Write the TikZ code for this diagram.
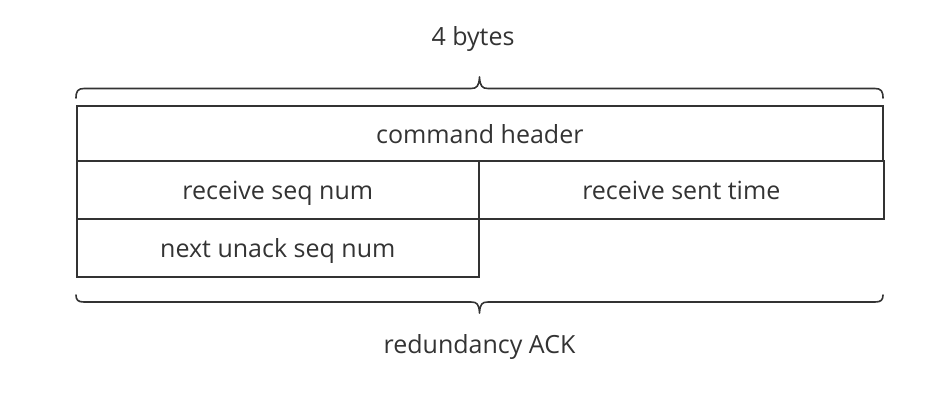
\documentclass[tikz,border=0pt]{standalone}
\usepackage{fontspec}
\setmainfont{Open Sans}
\definecolor{ink}{HTML}{333333}
\begin{document}
\begin{tikzpicture}[x=1pt,y=-1pt,
  txt/.style={text=ink,font=\fontsize{25}{30}\selectfont,text height=20pt,text depth=0pt},
  cell/.style={txt,draw=ink,line width=1.6pt,inner sep=0pt,anchor=north west},
  lbl/.style={txt,inner sep=0pt},
  brace/.style={draw=ink,line width=1.6pt,line cap=round,line join=round}]
\useasboundingbox (0,0) rectangle (943,408);
\node[cell,minimum width=806pt,minimum height=55pt] (hdr) at (76,105) {command header};
\node[cell,minimum width=402pt,minimum height=58pt] (rsn) at (76,160) {receive seq num};
\node[cell,minimum width=405pt,minimum height=58pt] (rst) at (478,160) {receive sent time};
\node[cell,minimum width=402pt,minimum height=58pt] (nus) at (76,218) {next unack seq num};
\node[lbl] (top) at (473,35) {4 bytes};
\node[lbl] (bot) at (479.5,343) {redundancy ACK};
\coordinate (tl) at (76,98);
\coordinate (tm) at (479.5,77);
\coordinate (tr) at (883,98);
\coordinate (bl) at (76,295);
\coordinate (bm) at (479.5,313);
\coordinate (br) at (883,295);
\draw[brace] (tl) .. controls (76,91) and (78,88.5) .. (84,88.5) -- (471,88.5)
  .. controls (477,88.5) and (479,86) .. (tm)
  .. controls (480,86) and (482,88.5) .. (488,88.5) -- (875,88.5)
  .. controls (881,88.5) and (883,91) .. (tr);
\draw[brace] (bl) .. controls (76,300) and (78,302) .. (84,302) -- (471,302)
  .. controls (477,302) and (479,304) .. (bm)
  .. controls (480,304) and (482,302) .. (488,302) -- (875,302)
  .. controls (881,302) and (883,300) .. (br);
\end{tikzpicture}
\end{document}
